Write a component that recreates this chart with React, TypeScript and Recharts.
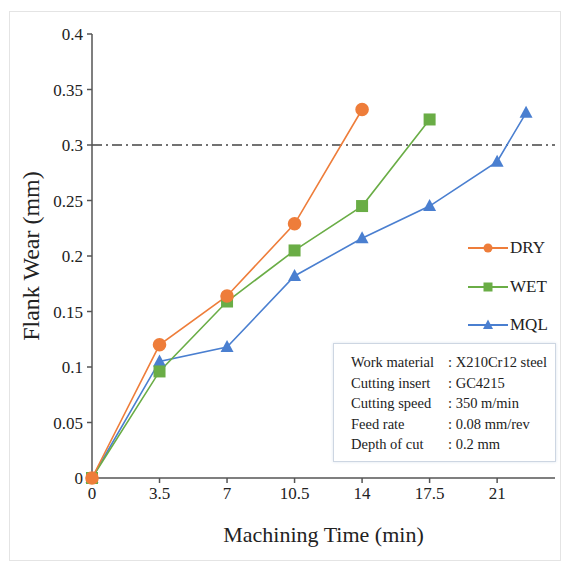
import React from 'react';
import {
  LineChart,
  Line,
  XAxis,
  YAxis,
  ReferenceLine,
} from 'recharts';

const times = [0, 3.5, 7, 10.5, 14, 17.5, 21, 22.5];
const dry = [0, 0.12, 0.164, 0.229, 0.332];
const wet = [0, 0.096, 0.159, 0.205, 0.245, 0.323];
const mql = [0, 0.105, 0.118, 0.182, 0.216, 0.245, 0.285, 0.329];
const xTicks = [0, 3.5, 7, 10.5, 14, 17.5, 21];
const yTicks = [0, 0.05, 0.1, 0.15, 0.2, 0.25, 0.3, 0.35, 0.4];
const info = [
  ['Work material', 'X210Cr12 steel'],
  ['Cutting insert', 'GC4215'],
  ['Cutting speed', '350 m/min'],
  ['Feed rate', '0.08 mm/rev'],
  ['Depth of cut', '0.2 mm'],
];

const data = times.map((t, i) => ({
  t,
  DRY: dry[i],
  WET: wet[i],
  MQL: mql[i],
}));

const font = "'Liberation Serif', 'Times New Roman', serif";
const orange = '#ee7d3a';
const green = '#6aad46';
const blue = '#4a7fd0';

const Square = (props: any) => {
  const { cx, cy } = props;
  if (cx == null || cy == null) return null;
  return <rect x={cx - 6} y={cy - 6} width={12} height={12} fill={green} />;
};

const Triangle = (props: any) => {
  const { cx, cy } = props;
  if (cx == null || cy == null) return null;
  return <polygon points={`${cx},${cy - 7} ${cx + 6.5},${cy + 5} ${cx - 6.5},${cy + 5}`} fill={blue} />;
};

const XTick = (props: any) => {
  const { x, y, payload } = props;
  return (
    <text x={x} y={y + 14} textAnchor="middle" style={{ fontFamily: font, fontSize: 17, fill: '#222' }}>
      {payload.value}
    </text>
  );
};

const YTick = (props: any) => {
  const { x, y, payload } = props;
  return (
    <text x={x - 2} y={y + 6} textAnchor="end" style={{ fontFamily: font, fontSize: 17, fill: '#222' }}>
      {payload.value}
    </text>
  );
};

const legendItems = [
  { name: 'DRY', color: orange, top: 248 },
  { name: 'WET', color: green, top: 287 },
  { name: 'MQL', color: blue, top: 325 },
];

const App = () => {
  return (
    <div style={{ position: 'absolute', left: 0, top: 0, width: 568, height: 563, background: '#fff', fontFamily: font }}>
      <div style={{ position: 'absolute', left: 9, top: 11, width: 552, height: 550, border: '1px solid #e4e4e4', boxSizing: 'border-box' }} />
      <LineChart
        width={568}
        height={563}
        data={data}
        margin={{ top: 34, right: 13, bottom: 5, left: 32 }}
        style={{ position: 'absolute', left: 0, top: 0, fontFamily: font }}
      >
        <XAxis
          dataKey="t"
          type="number"
          domain={[0, 24]}
          ticks={xTicks}
          height={80}
          stroke="#555"
          strokeWidth={1.5}
          tickSize={5}
          tick={<XTick />}
          label={{ value: 'Machining Time (min)', position: 'insideBottom', offset: 16, style: { fontFamily: font, fontSize: 22, fill: '#222' } }}
        />
        <YAxis
          type="number"
          domain={[0, 0.4]}
          ticks={yTicks}
          width={60}
          stroke="#555"
          strokeWidth={1.5}
          tickSize={5}
          tick={<YTick />}
          label={{ value: 'Flank Wear (mm)', angle: -90, position: 'insideLeft', offset: -2, style: { fontFamily: font, fontSize: 24, fill: '#222', textAnchor: 'middle' } }}
        />
        <ReferenceLine y={0.3} stroke="#444" strokeWidth={1.3} strokeDasharray="10 4 2 4" />
        <Line dataKey="MQL" stroke={blue} strokeWidth={1.6} dot={<Triangle />} isAnimationActive={false} />
        <Line dataKey="WET" stroke={green} strokeWidth={1.6} dot={<Square />} isAnimationActive={false} />
        <Line dataKey="DRY" stroke={orange} strokeWidth={1.6} dot={{ r: 6, fill: orange, stroke: orange }} isAnimationActive={false} />
      </LineChart>
      {legendItems.map((it) => (
        <div key={it.name} style={{ position: 'absolute', left: 468, top: it.top - 10, height: 20, display: 'flex', alignItems: 'center' }}>
          <svg width={41} height={20}>
            <line x1={0} y1={10} x2={40} y2={10} stroke={it.color} strokeWidth={1.8} />
            {it.name === 'DRY' && <circle cx={20} cy={10} r={4.5} fill={it.color} />}
            {it.name === 'WET' && <rect x={15.5} y={5.5} width={9} height={9} fill={it.color} />}
            {it.name === 'MQL' && <polygon points="20,4.5 25,14 15,14" fill={it.color} />}
          </svg>
          <span style={{ fontFamily: font, fontSize: 17, color: '#222', marginLeft: 1 }}>{it.name}</span>
        </div>
      ))}
      <div
        style={{
          position: 'absolute',
          left: 333,
          top: 343,
          width: 223,
          height: 119,
          border: '1.5px solid #cdd6e2',
          boxSizing: 'border-box',
          boxShadow: '0 0 3px #dde4ee',
          background: '#fff',
          padding: '8px 0 0 17px',
          fontFamily: font,
          fontSize: 14.5,
          color: '#222',
          lineHeight: '20.6px',
        }}
      >
        {info.map(([k, v]) => (
          <div key={k} style={{ display: 'flex', whiteSpace: 'nowrap' }}>
            <span style={{ width: 97 }}>{k}</span>
            <span>: {v}</span>
          </div>
        ))}
      </div>
    </div>
  );
};

export default App;
